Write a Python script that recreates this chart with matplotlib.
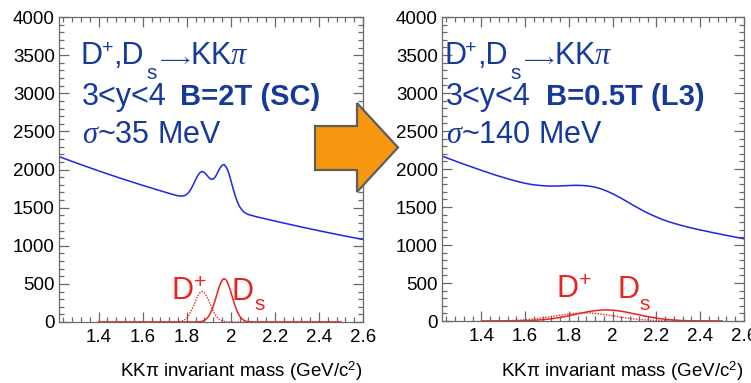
import matplotlib
matplotlib.use("Agg")
import matplotlib.pyplot as plt
from matplotlib.patches import Polygon
from matplotlib.ticker import MultipleLocator

plt.rcParams["font.family"] = ["Liberation Sans", "DejaVu Sans"]
plt.rcParams["mathtext.fontset"] = "custom"
plt.rcParams["mathtext.rm"] = "Liberation Sans"
plt.rcParams["mathtext.it"] = "Liberation Serif:italic"
plt.rcParams["mathtext.bf"] = "Liberation Sans:bold"

# ---- left panel: B=2T (SC), sigma ~ 35 MeV ----
mass_sc_total = [1.22, 1.30, 1.40, 1.50, 1.60, 1.70,
                 1.74, 1.75, 1.76, 1.77, 1.78, 1.79, 1.80, 1.81, 1.82, 1.83,
                 1.84, 1.85, 1.86, 1.87, 1.88, 1.89, 1.90, 1.91, 1.92, 1.93,
                 1.94, 1.95, 1.96, 1.97, 1.98, 1.99, 2.00, 2.01, 2.02, 2.03,
                 2.04, 2.05, 2.06, 2.07, 2.08, 2.09, 2.10, 2.11, 2.12,
                 2.20, 2.30, 2.40, 2.50, 2.60]
counts_sc_total = [2170, 2084, 1982, 1884, 1792, 1704,
                   1670, 1662, 1656, 1652, 1652, 1657, 1674, 1704, 1748, 1804,
                   1866, 1922, 1960, 1974, 1961, 1930, 1894, 1872, 1874, 1905,
                   1959, 2015, 2056, 2064, 2029, 1957, 1859, 1753, 1654, 1573,
                   1512, 1470, 1441, 1423, 1410, 1401, 1393, 1385, 1378,
                   1324, 1259, 1197, 1138, 1082]

mass_sc_sig = [1.40, 1.60, 1.70,
               1.74, 1.75, 1.76, 1.77, 1.78, 1.79, 1.80, 1.81, 1.82, 1.83,
               1.84, 1.85, 1.86, 1.87, 1.88, 1.89, 1.90, 1.91, 1.92, 1.93,
               1.94, 1.95, 1.96, 1.97, 1.98, 1.99, 2.00, 2.01, 2.02, 2.03,
               2.04, 2.05, 2.06, 2.07, 2.08, 2.09, 2.10, 2.11, 2.12,
               2.20, 2.50]
counts_sc_dplus = [0, 0, 0,
                   0, 1, 3, 7, 15, 29, 54, 92, 144, 208,
                   277, 340, 384, 400, 384, 340, 277, 208, 144, 92,
                   54, 29, 15, 7, 3, 1, 0, 0, 0, 0,
                   0, 0, 0, 0, 0, 0, 0, 0, 0,
                   0, 0]
counts_sc_ds = [0, 0, 0,
                0, 0, 0, 0, 0, 0, 0, 0, 0, 0,
                1, 2, 4, 10, 21, 42, 77, 131, 205, 296,
                395, 484, 547, 570, 547, 484, 395, 296, 205, 131,
                77, 42, 21, 10, 4, 2, 1, 0, 0,
                0, 0]

# ---- right panel: B=0.5T (L3), sigma ~ 140 MeV ----
mass_l3_total = [1.22, 1.30, 1.40, 1.42, 1.44, 1.46, 1.48, 1.50, 1.52, 1.54,
                 1.56, 1.58, 1.60, 1.62, 1.64, 1.66, 1.68, 1.70, 1.72, 1.74,
                 1.76, 1.78, 1.80, 1.82, 1.84, 1.86, 1.88, 1.90, 1.92, 1.94,
                 1.96, 1.98, 2.00, 2.02, 2.04, 2.06, 2.08, 2.10, 2.12, 2.14,
                 2.16, 2.18, 2.20, 2.22, 2.24, 2.26, 2.28, 2.30, 2.32, 2.34,
                 2.36, 2.38, 2.40, 2.42, 2.44, 2.46, 2.48, 2.50, 2.55, 2.60]
counts_l3_total = [2170, 2084, 1982, 1963, 1943, 1924, 1906, 1889, 1872, 1855,
                   1840, 1825, 1812, 1801, 1792, 1786, 1780, 1777, 1775, 1776,
                   1777, 1780, 1782, 1785, 1785, 1783, 1779, 1771, 1760, 1745,
                   1724, 1701, 1674, 1644, 1613, 1580, 1546, 1513, 1481, 1449,
                   1421, 1393, 1369, 1344, 1323, 1303, 1285, 1269, 1253, 1238,
                   1224, 1211, 1198, 1186, 1174, 1161, 1150, 1138, 1110, 1082]

mass_l3_sig = [1.40, 1.42, 1.44, 1.46, 1.48, 1.50, 1.52, 1.54, 1.56, 1.58,
               1.60, 1.62, 1.64, 1.66, 1.68, 1.70, 1.72, 1.74, 1.76, 1.78,
               1.80, 1.82, 1.84, 1.86, 1.88, 1.90, 1.92, 1.94, 1.96, 1.98,
               2.00, 2.02, 2.04, 2.06, 2.08, 2.10, 2.12, 2.14, 2.16, 2.18,
               2.20, 2.22, 2.24, 2.26, 2.28, 2.30, 2.32, 2.34, 2.36, 2.38,
               2.40, 2.42, 2.44, 2.46, 2.48, 2.50]
counts_l3_dplus = [0, 1, 1, 1, 2, 3, 5, 7, 9, 12,
                   16, 21, 27, 34, 42, 50, 59, 68, 77, 85,
                   93, 99, 103, 105, 105, 103, 99, 93, 85, 77,
                   68, 59, 50, 42, 34, 27, 21, 16, 12, 9,
                   7, 5, 3, 2, 1, 1, 1, 0, 0, 0,
                   0, 0, 0, 0, 0, 0]
counts_l3_ds = [0, 0, 0, 0, 0, 1, 1, 1, 2, 3,
                4, 6, 9, 13, 17, 23, 29, 38, 47, 58,
                69, 82, 94, 106, 118, 128, 136, 142, 145, 145,
                142, 136, 128, 118, 106, 94, 82, 69, 58, 47,
                38, 29, 23, 17, 13, 9, 6, 4, 3, 2,
                1, 1, 1, 0, 0, 0]

x_ticks = [1.4, 1.6, 1.8, 2.0, 2.2, 2.4, 2.6]
x_tick_labels = ["1.4", "1.6", "1.8", "2", "2.2", "2.4", "2.6"]
y_ticks = [0, 500, 1000, 1500, 2000, 2500, 3000, 3500, 4000]

BLUE_TEXT = "#163a9c"
BLUE_LINE = "#1e24e8"
RED = "#e8241c"
FRAME = "#6a6a6a"

W, H = 751, 383
fig = plt.figure(figsize=(W / 100, H / 100), dpi=100)


def px_box(x0, x1, y_top, y_bot):
    return [x0 / W, 1 - y_bot / H, (x1 - x0) / W, (y_bot - y_top) / H]


def fx(px):
    return px / W


def fy(py):
    return 1 - py / H


def put(xp, yp, s, **kw):
    kw.setdefault("va", "baseline")
    return fig.text(fx(xp), fy(yp), s, **kw)


ax_l = fig.add_axes(px_box(59, 363, 17, 322))
ax_r = fig.add_axes(px_box(442, 744, 17, 321))


def style(ax):
    ax.set_xlim(1.22, 2.6)
    ax.set_ylim(0, 4000)
    ax.set_xticks(x_ticks)
    ax.set_xticklabels(x_tick_labels)
    ax.set_yticks(y_ticks)
    ax.xaxis.set_minor_locator(MultipleLocator(0.04))
    ax.yaxis.set_minor_locator(MultipleLocator(100))
    ax.tick_params(which="both", direction="in", top=True, right=True,
                   color=FRAME, width=0.9, labelsize=13.5)
    ax.tick_params(which="major", length=7)
    ax.tick_params(which="minor", length=3.5)
    ax.tick_params(axis="x", pad=5)
    ax.tick_params(axis="y", pad=3)
    for s in ax.spines.values():
        s.set_color(FRAME)
        s.set_linewidth(0.9)
    fig.text(ax.get_position().x1, fy(377),
             "KKπ invariant mass (GeV/c$^{2}$)", ha="right", va="baseline",
             fontsize=13.5)


for ax in (ax_l, ax_r):
    style(ax)

# fitted curves: total (blue), D+ (dotted red), Ds (solid red)
ax_l.plot(mass_sc_total, counts_sc_total, color=BLUE_LINE, lw=1.1)
ax_l.plot(mass_sc_sig, counts_sc_dplus, color=RED, lw=1.0, ls=(0, (1, 1)))
ax_l.plot(mass_sc_sig, counts_sc_ds, color=RED, lw=1.1)

ax_r.plot(mass_l3_total, counts_l3_total, color=BLUE_LINE, lw=1.1)
ax_r.plot(mass_l3_sig, counts_l3_dplus, color=RED, lw=1.0, ls=(0, (1, 1)))
ax_r.plot(mass_l3_sig, counts_l3_ds, color=RED, lw=1.1)

# captions
FS = 22
FS_BOLD = 21
FS_SUB = 15


def captions(x0, bold_text, sigma_text):
    dx = x0 - 82
    c = dict(color=BLUE_TEXT, fontsize=FS)
    # D+,Ds -> KK pi, set piece by piece with a raised "+" and a low "s"
    put(80.5 + dx, 64, "D", **c)
    put(101.5 + dx, 53, "+", color=BLUE_TEXT, fontsize=14)
    put(112.9 + dx, 64, ",D", **c)
    put(146 + dx, 79, "s", color=BLUE_TEXT, fontsize=FS_SUB)
    put(175 + dx, 65, "⟶", color=BLUE_TEXT, fontsize=14, ha="center",
        family=["STIXGeneral", "DejaVu Sans"])
    put(189.5 + dx, 64, r"KK$\pi$", **c)
    put(81.5 + dx, 105, "3<y<4", **c)
    put(179.5 + dx + (2 if dx else 0), 105, bold_text, color=BLUE_TEXT,
        fontsize=FS_BOLD, fontweight="bold")
    put(81.5 + dx, 143, r"$\sigma$~" + sigma_text, **c)


captions(82, "B=2T (SC)", "35 MeV")
captions(446, "B=0.5T (L3)", "140 MeV")

# peak labels
r = dict(color=RED, fontsize=FS)
put(171, 300, r"D$^{+}$", **r)
put(231, 300, "D", **r)
put(254, 310, "s", color=RED, fontsize=FS_SUB)
put(556, 298, r"D$^{+}$", **r)
put(618, 298, "D", **r)
put(639, 310, "s", color=RED, fontsize=FS_SUB)

# block arrow between the panels
arrow_px = [(315, 126), (357, 126), (357, 103), (398, 147.5),
            (357, 192), (357, 170), (315, 170)]
arrow = Polygon([(fx(x), fy(y)) for x, y in arrow_px], closed=True,
                transform=fig.transFigure, facecolor="#f7960f",
                edgecolor="#5e5e5e", lw=1.6, zorder=10)
fig.add_artist(arrow)

fig.savefig("out.png", dpi=100)
